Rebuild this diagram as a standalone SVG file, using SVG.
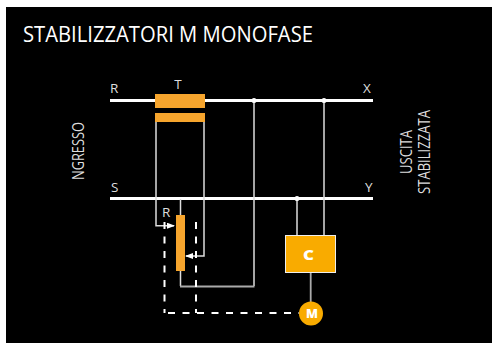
<svg xmlns="http://www.w3.org/2000/svg" width="492" height="343" viewBox="0 0 492 343">
<style>
text{font-family:"Open Sans","Noto Sans",sans-serif;fill:#fff}
.t{font-size:13.500px;fill:#ddd}
.v{font-size:16.500px;fill:#ddd}
.b{fill:none;stroke:#fff;stroke-width:3}
.w{fill:none;stroke:#ddd;stroke-width:1.500}
.g{fill:none;stroke:#aaa;stroke-width:1.800}
.d{fill:none;stroke:#fff;stroke-width:2;stroke-dasharray:7 7.500}
.o{fill:#f6a52d}
.y{fill:#f9ab00}
</style>
<defs><marker id="a" markerWidth="8" markerHeight="6" refX="7" refY="3" orient="auto" markerUnits="userSpaceOnUse"><path d="M0 0L8 3L0 6z" fill="#fff"/></marker></defs>
<rect width="492" height="343" fill="#fff"/>
<rect x="6" y="7" width="486" height="336" fill="#000"/>
<text id="title" x="23" y="42" font-size="21" textLength="290" lengthAdjust="spacingAndGlyphs">STABILIZZATORI M MONOFASE</text>
<g id="connectors">
<path class="b" d="M110 100.500H155M205 100.500H373M110 198.500H373"/>
<path class="w" d="M156 122V225.700H174" marker-end="url(#a)"/>
<path class="w" d="M204 122V256H186" marker-end="url(#a)"/>
<path class="w" d="M180.500 199V215M180.500 271V286M254 100V286M324 100V235M297 198V235"/>
<path class="g" d="M180 286.500H254.500M310.700 273V302"/>
<path class="d" d="M164.500 222V313M196 222V313M168 313H299"/>
<circle cx="254" cy="100.500" r="2.500" fill="#fff"/>
<circle cx="324" cy="100.500" r="2.500" fill="#fff"/>
<circle cx="297" cy="198.500" r="2.500" fill="#fff"/>
</g>
<g id="T"><rect class="o" x="155" y="94" width="50" height="14"/><rect class="o" x="155" y="113" width="50" height="9"/><text class="t" x="178" y="89" text-anchor="middle">T</text></g>
<g id="Rv"><rect class="o" x="176" y="215" width="9" height="56"/><text class="t" x="162" y="217">R</text></g>
<g id="C"><rect class="y" x="285.500" y="235.500" width="50" height="37" stroke="#eee" stroke-width="1"/><text x="308.500" y="259.500" font-size="14" font-weight="800" text-anchor="middle" textLength="11" lengthAdjust="spacingAndGlyphs">C</text></g>
<g id="M"><circle cx="311" cy="313.500" r="12" class="y"/><text x="312" y="317.500" font-size="12" font-weight="800" text-anchor="middle" textLength="12" lengthAdjust="spacingAndGlyphs">M</text></g>
<g id="labels">
<text class="t" x="110" y="93">R</text>
<text class="t" x="111" y="192">S</text>
<text class="t" x="363" y="93">X</text>
<text class="t" x="365" y="192">Y</text>
<text class="v" transform="translate(84 180) rotate(-90)" textLength="58" lengthAdjust="spacingAndGlyphs">NGRESSO</text>
<text class="v" transform="translate(412 174) rotate(-90)" textLength="44" lengthAdjust="spacingAndGlyphs">USCITA</text>
<text class="v" transform="translate(430 194) rotate(-90)" textLength="84" lengthAdjust="spacingAndGlyphs">STABILIZZATA</text>
</g>
</svg>
